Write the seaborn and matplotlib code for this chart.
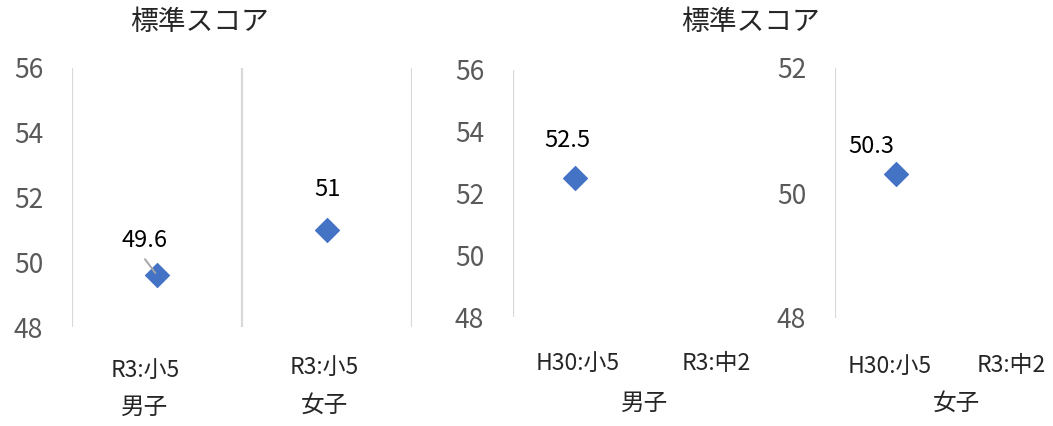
import numpy as np
import pandas as pd
import matplotlib
matplotlib.use("Agg")
import matplotlib.pyplot as plt
import seaborn as sns

sns.set_theme(style="white")
plt.rcParams["font.family"] = ["Noto Sans CJK JP", "DejaVu Sans"]

# ---- data ----
title = "標準スコア"

left_groups = ["男子", "女子"]
left_cats = ["R3:小5", "R3:小5"]
left_scores = [49.6, 51.0]

male_group = "男子"
male_cats = ["H30:小5", "R3:中2"]
male_scores = [52.5, np.nan]

female_group = "女子"
female_cats = ["H30:小5", "R3:中2"]
female_scores = [50.3, np.nan]

# ---- style ----
W, H = 1053, 426
DPI = 100
BLUE = "#4472C4"
GRID = "#d9d9d9"
TICK = "#595959"
TXT = "#262626"
PX = 72 / DPI  # points per pixel

fig = plt.figure(figsize=(W / DPI, H / DPI), dpi=DPI)
fig.patch.set_facecolor("white")


def add_axes_px(x0, x1, ytop, ybot):
    return fig.add_axes([x0 / W, 1 - ybot / H, (x1 - x0) / W, (ybot - ytop) / H])


def style_axes(ax, ylim, yticks, xlim):
    ax.set_ylim(*ylim)
    ax.set_xlim(*xlim)
    ax.set_yticks(yticks)
    ax.set_yticklabels([f"{t:g}" for t in yticks], color=TICK, fontsize=19)
    ax.tick_params(axis="y", length=0, pad=29 * PX)
    ax.set_xticks([])
    for s in ax.spines.values():
        s.set_visible(False)
    ax.set_facecolor("none")
    ax.grid(False)


def draw_points(ax, scores):
    df = pd.DataFrame({"pos": np.arange(len(scores)), "score": scores}).dropna()
    sns.scatterplot(data=df, x="pos", y="score", marker="D", s=150,
                    color=BLUE, edgecolor=BLUE, linewidth=0.8, ax=ax,
                    legend=False, zorder=3, clip_on=False)
    ax.set_xlabel("")
    ax.set_ylabel("")


def label_point(ax, x, y, dx_px, dy_px, leader=None):
    ax.annotate(f"{y:g}", xy=(x, y), xytext=(dx_px * PX, dy_px * PX),
                textcoords="offset points", ha="center", va="center",
                fontsize=17, color="black")
    if leader is not None:
        # thin leader line from under the label to the marker
        ax.annotate("", xy=(x, y), xytext=(leader[0] * PX, leader[1] * PX),
                    textcoords="offset points",
                    arrowprops=dict(arrowstyle="-", color="#a6a6a6", lw=1.4,
                                    shrinkA=0, shrinkB=2))


def cat_label(ax, x, text, dy_px, dx_px=0, size=16.5):
    ax.annotate(text, xy=(x, 0), xycoords=("data", "axes fraction"),
                xytext=(dx_px * PX, -dy_px * PX), textcoords="offset points",
                ha="center", va="center", fontsize=size, color=TXT,
                annotation_clip=False)


def chart_title(x_px):
    fig.text(x_px / W, 1 - 22 / H, title, ha="center", va="center",
             fontsize=20, color=TXT)


# ---- left chart ----
axL = add_axes_px(72, 412, 68, 327)
style_axes(axL, (48, 56), [48, 50, 52, 54, 56], (-0.5, len(left_scores) - 0.5))
for b in np.arange(len(left_scores) + 1) - 0.5:
    axL.axvline(b, color=GRID, lw=1.6, zorder=1)
draw_points(axL, left_scores)
label_point(axL, 0, left_scores[0], -12, 35, leader=(-12, 16))
label_point(axL, 1, left_scores[1], 0, 40)
for i, (c, g) in enumerate(zip(left_cats, left_groups)):
    shift = -12 if i == 0 else -3
    cat_label(axL, i, c, 43 - 3 * i, dx_px=shift)
    cat_label(axL, i, g, 80 - 2 * i, dx_px=shift, size=17)
chart_title(200)

# ---- right chart: boys ----
axM = add_axes_px(513, 793, 70, 317)
style_axes(axM, (48, 56), [48, 50, 52, 54, 56], (-0.44, 1.56))
axM.axvline(-0.44, color=GRID, lw=1.6, zorder=1)
draw_points(axM, male_scores)
label_point(axM, 0, male_scores[0], -7, 38)
for i, c in enumerate(male_cats):
    cat_label(axM, i, c, 46, dx_px=3 - i)
cat_label(axM, 0.5, male_group, 86, size=17)

# ---- right chart: girls ----
axF = add_axes_px(835, 1053, 68, 318)
style_axes(axF, (48, 52), [48, 50, 52], (-0.5, -0.5 + 218 / 121))
axF.axvline(-0.5, color=GRID, lw=1.6, zorder=1)
draw_points(axF, female_scores)
label_point(axF, 0, female_scores[0], -24, 28)
for i, c in enumerate(female_cats):
    cat_label(axF, i, c, 48, dx_px=-6 + i)
cat_label(axF, 0.5, female_group, 85, size=17)

chart_title(751)

fig.savefig("out.png", dpi=DPI, facecolor="white")
